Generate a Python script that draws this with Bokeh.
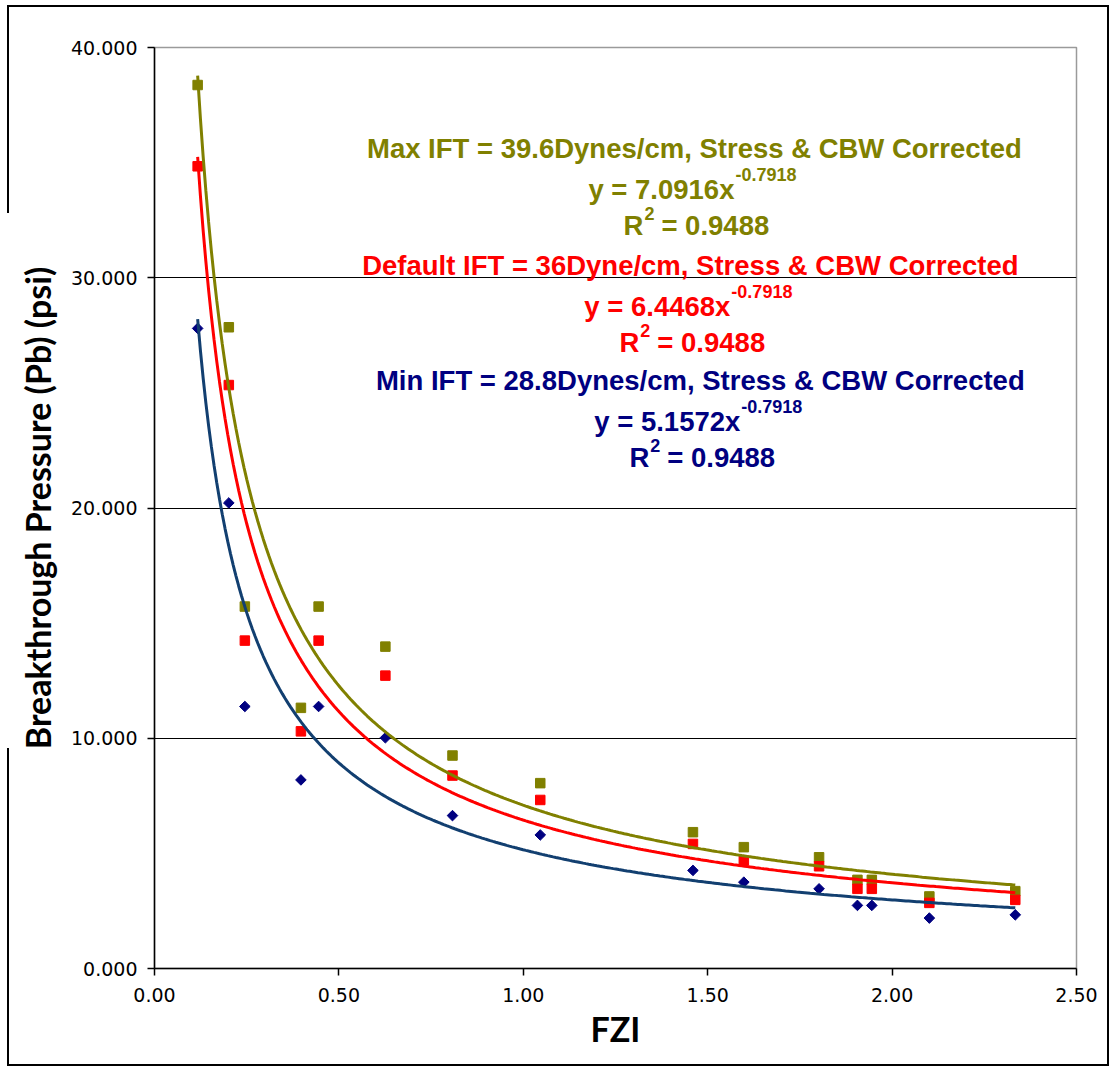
import numpy as np
from bokeh.plotting import figure
from bokeh.models import Range1d, FixedTicker, PrintfTickFormatter, Label
from bokeh.embed import file_html
from bokeh.resources import INLINE

# Flow zone indicator and breakthrough pressure for three IFT cases
fzi = [0.117, 0.2015, 0.245, 0.397, 0.445, 0.626, 0.808, 1.046,
       1.460, 1.598, 1.802, 1.906, 1.945, 2.101, 2.334]
pb_max = [38.37, 27.85, 15.72, 11.32, 15.72, 13.98, 9.25, 8.05,
          5.92, 5.27, 4.83, 3.85, 3.85, 3.13, 3.36]
pb_default = [34.84, 25.34, 14.24, 10.30, 14.24, 12.72, 8.38, 7.32,
              5.41, 4.69, 4.44, 3.46, 3.46, 2.85, 2.98]
pb_min = [27.80, 20.22, 11.38, 8.19, 11.38, 10.02, 6.64, 5.80,
          4.26, 3.75, 3.46, 2.74, 2.74, 2.19, 2.33]

series_names = [
    "Max IFT = 39.6Dynes/cm, Stress & CBW Corrected",
    "Default IFT = 36Dyne/cm, Stress & CBW Corrected",
    "Min IFT = 28.8Dynes/cm, Stress & CBW Corrected",
]
# power-law trendlines y = a * x^b
fit_coef = [7.0916, 6.4468, 5.1572]
fit_exp = -0.7918
fit_r2 = 0.9488

y_ticks = [0, 10, 20, 30, 40]
x_ticks = [0.0, 0.5, 1.0, 1.5, 2.0, 2.5]

marker_colors = ["#808000", "#FF0000", "#000080"]
line_colors = ["#808000", "#FF0000", "#123F70"]

# outer chart border, painted as CSS background strips behind a transparent
# canvas border (left side is broken where the y-axis title sits)
strips = [  # (left, top, width, height) in px
    (7, 5, 1102, 2),
    (1107, 5, 2, 1061),
    (7, 1064, 1102, 2),
    (7, 5, 2, 208),
    (7, 748, 2, 318),
]
frame_css = {
    "background-color": "white",
    "background-image": ", ".join(["linear-gradient(black, black)"] * len(strips)),
    "background-size": ", ".join(f"{w}px {h}px" for _, _, w, h in strips),
    "background-position": ", ".join(f"{l}px {t}px" for l, t, _, _ in strips),
    "background-repeat": "no-repeat",
}

p = figure(width=1115, height=1067, output_backend="svg", toolbar_location=None,
           x_range=Range1d(0, 2.5), y_range=Range1d(0, 40),
           min_border_left=154, min_border_right=39,
           min_border_top=47, min_border_bottom=99,
           background_fill_color="white", border_fill_alpha=0,
           styles=frame_css)

p.outline_line_color = "#9A9A9A"
p.outline_line_width = 1.5

p.xgrid.visible = False
p.ygrid.ticker = FixedTicker(ticks=[10, 20, 30])
p.ygrid.grid_line_color = "black"
p.ygrid.grid_line_width = 1

for ax in (p.xaxis[0], p.yaxis[0]):
    ax.axis_line_color = "black"
    ax.axis_line_width = 1.5
    ax.major_tick_line_color = "black"
    ax.major_tick_line_width = 1.5
    ax.major_tick_in = 0
    ax.major_tick_out = 7
    ax.minor_tick_line_color = None
    ax.major_label_text_font = "DejaVu Sans"
    ax.major_label_text_font_size = "19px"
    ax.major_label_text_color = "black"
    ax.axis_label_text_font = "Lato"
    ax.axis_label_text_font_style = "bold"
    ax.axis_label_text_font_size = "34px"
    ax.axis_label_text_color = "black"

p.yaxis.ticker = FixedTicker(ticks=y_ticks)
p.xaxis.ticker = FixedTicker(ticks=x_ticks)
p.yaxis.formatter = PrintfTickFormatter(format="%.3f")
p.xaxis.formatter = PrintfTickFormatter(format="%.2f")
p.yaxis.major_label_standoff = 10
p.xaxis.major_label_standoff = 12
p.yaxis.axis_label = "Breakthrough Pressure (Pb) (psi)"
p.xaxis.axis_label = "FZI"
p.yaxis.axis_label_standoff = 10
p.xaxis.axis_label_standoff = 3

# data points
p.scatter(fzi, pb_max, marker="square", size=9.5, color=marker_colors[0])
p.scatter(fzi, pb_default, marker="square", size=9.5, color=marker_colors[1])
p.scatter(fzi, pb_min, marker="square", size=7.5, angle=np.pi / 4, color=marker_colors[2])

# trendlines over the data range
x_fit = np.linspace(min(fzi), max(fzi), 300)
for a, col in zip(fit_coef, line_colors):
    p.line(x_fit, a * x_fit ** fit_exp, line_color=col, line_width=3)

# trendline annotations
block_x = [1.464, 1.453, 1.480]
title_y = [35.61, 30.53, 25.54]
eq_y = [33.83, 28.75, 23.76]
r2_y = [32.27, 27.19, 22.19]

def note(x, y, text, color, size="27.5px", align="left", dx=0):
    p.add_layout(Label(x=x, y=y, text=text, x_offset=dx, text_align=align,
                       text_baseline="alphabetic", text_font="Liberation Sans",
                       text_font_style="bold", text_font_size=size,
                       text_color=color))

for i in range(3):
    c = marker_colors[i]
    note(block_x[i], title_y[i], series_names[i], c, align="center")
    note(block_x[i], eq_y[i], f"y = {fit_coef[i]:.4f}x", c, align="right", dx=40)
    note(block_x[i], eq_y[i] + 0.65, f"{fit_exp:.4f}", c, size="18px", dx=41)
    note(block_x[i], r2_y[i], "R", c, align="right", dx=-51)
    note(block_x[i], r2_y[i] + 0.52, "2", c, size="18px", dx=-50)
    note(block_x[i], r2_y[i], f"= {fit_r2:.4f}", c, dx=-33)

open("out.html", "w").write(file_html(p, INLINE))
